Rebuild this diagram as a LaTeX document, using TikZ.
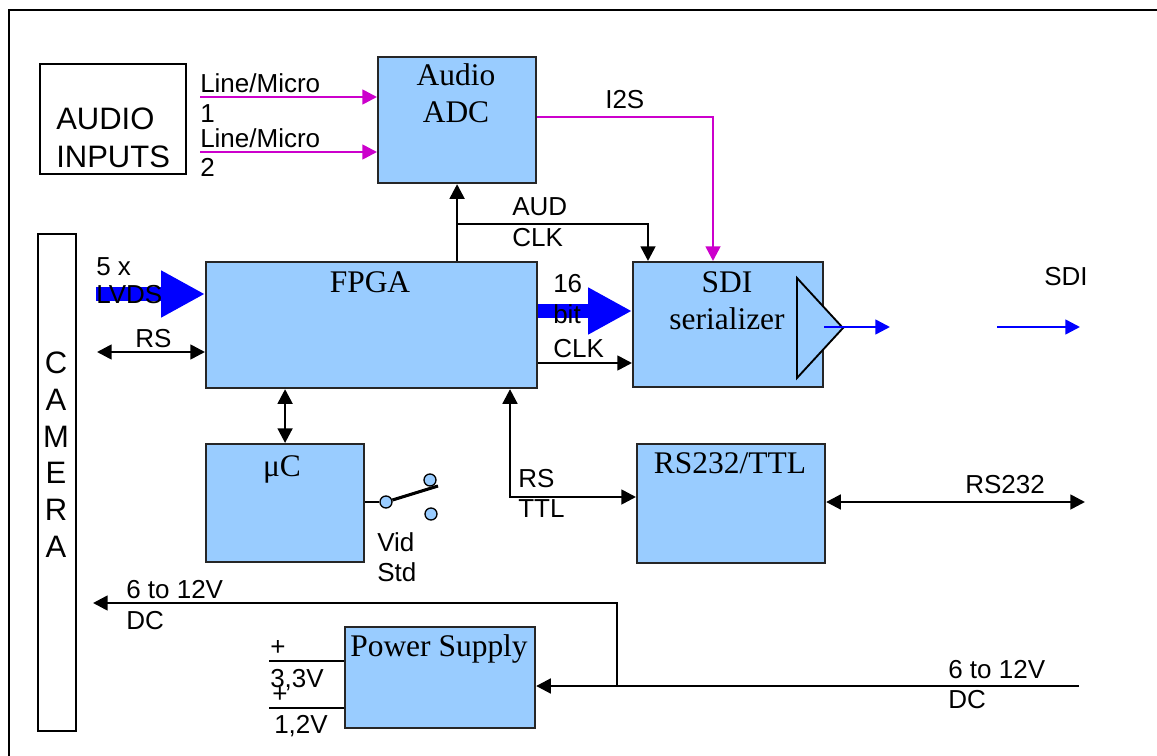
\documentclass[tikz,border=0pt]{standalone}
\usepackage{fontspec}
\setmainfont{Liberation Serif}
\setsansfont{Liberation Sans}
\usetikzlibrary{arrows.meta}
\definecolor{boxblue}{HTML}{99CCFF}
\definecolor{mag}{HTML}{CC00CC}
\definecolor{sblue}{HTML}{0000FF}
\begin{document}
\begin{tikzpicture}[x=0.75pt,y=-0.75pt,
  >={Triangle[length=11pt,width=11pt]},
  blk/.style={draw=black!85, line width=1.6pt, fill=boxblue, inner sep=0pt, anchor=north west},
  wbox/.style={draw, line width=1.6pt, fill=white, inner sep=0pt, anchor=north west},
  lbl/.style={font=\sffamily\fontsize{19.5}{22}\selectfont, inner sep=0pt, anchor=base west},
  bigtxt/.style={font=\sffamily\fontsize{23.25}{26}\selectfont, inner sep=0pt, anchor=base west},
  camtxt/.style={font=\sffamily\fontsize{23.25}{26}\selectfont, inner sep=0pt, anchor=base},
  ser/.style={font=\rmfamily\fontsize{23.6}{26}\selectfont, inner sep=0pt, anchor=base},
  conn/.style={line width=2pt, ->},
  conntwo/.style={line width=2pt, <->},
  plainline/.style={line width=2pt},
  magc/.style={line width=2pt, draw=mag, ->, color=mag},
  bconn/.style={line width=1.9pt, color=sblue, ->},
  bigarr/.style={line width=10.5pt, color=sblue, -{Triangle[length=33pt,width=33pt]}},
  contact/.style={circle, draw, fill=boxblue, minimum size=9pt, inner sep=0pt, line width=1pt}
]
\useasboundingbox (0,0) rectangle (1157,756);
% frame
\draw[line width=1.6pt] (9,756) -- (9,10) -- (1157,10);

% boxes
\node[wbox, minimum width=109.5pt, minimum height=82.5pt] (ains) at (39,63) {};
\node[bigtxt] (ainsA) at (56,130) {AUDIO};
\node[bigtxt] (ainsB) at (56,168) {INPUTS};

\node[blk, minimum width=118.5pt, minimum height=94.5pt] (adc) at (377,56) {};
\node[ser] (adct1) at (456,86) {Audio};
\node[ser] (adct2) at (456,123) {ADC};

\node[blk, minimum width=248.25pt, minimum height=94.5pt] (fpga) at (205,261) {};
\node[ser] (fpgat) at (370,292) {FPGA};

\node[blk, minimum width=142.5pt, minimum height=93.75pt] (sdi) at (632,261) {};
\node[ser] (sdit1) at (727,292) {SDI};
\node[ser] (sdit2) at (727,329) {serializer};
\draw[fill=boxblue, line width=1.4pt] (797,278) -- (797,378) -- (843,328) -- cycle;

\node[blk, minimum width=118.5pt, minimum height=88.5pt] (uc) at (205,443) {};
\node[ser] (uct) at (282,476) {μC};

\node[blk, minimum width=141pt, minimum height=89.25pt] (rsttl) at (636,443) {};
\node[ser] (rsttlt) at (730,473) {RS232/TTL};

\node[blk, minimum width=142.5pt, minimum height=75.75pt] (ps) at (344,626) {};
\node[ser] (pst) at (439,656) {Power Supply};

\node[wbox, minimum width=28.5pt, minimum height=372.75pt] (cam) at (37,233) {};
\node[camtxt] (c1) at (56,373) {C};
\node[camtxt] (c2) at (56,410) {A};
\node[camtxt] (c3) at (56,447) {M};
\node[camtxt] (c4) at (56,483) {E};
\node[camtxt] (c5) at (56,520) {R};
\node[camtxt] (c6) at (56,557) {A};

% audio inputs
\coordinate (lm1) at (200,97);
\coordinate (lm2) at (200,152);
\draw[magc] (lm1) -- (lm1 -| adc.west);
\draw[magc] (lm2) -- (lm2 -| adc.west);
\node[lbl] (lm1a) at (200,93) {Line/Micro};
\node[lbl] (lm1b) at (200,123) {1};
\node[lbl] (lm2a) at (200,148) {Line/Micro};
\node[lbl] (lm2b) at (200,177) {2};

% I2S
\coordinate (i2s) at (713,117);
\draw[magc] (adc.east |- i2s) -- (i2s) -- (i2s |- sdi.north);
\node[lbl] (i2st) at (605,109) {I2S};

% FPGA to ADC and AUD CLK
\draw[conn] (fpga.north -| adc.south) -- (adc.south);
\coordinate (ac1) at (457,224);
\coordinate (ac2) at (648,224);
\draw[conn] (ac1) -- (ac2) -- (ac2 |- sdi.north);
\node[lbl] (audt) at (512,216) {AUD};
\node[lbl] (audc) at (512,247) {CLK};

% LVDS
\coordinate (lvds) at (96,294);
\draw[bigarr] (lvds) -- (lvds -| fpga.west);
\node[lbl] (lv1) at (96,276) {5 x};
\node[lbl] (lv2) at (96,303) {LVDS};

% RS camera
\coordinate (rsl) at (97,352);
\draw[conntwo] (rsl) -- (rsl -| fpga.west);
\node[lbl] (rst) at (135,347) {RS};

% 16 bit
\coordinate (b16) at (536,311);
\draw[bigarr] (fpga.east |- b16) -- (sdi.west |- b16);
\node[lbl] (b16a) at (553,292) {16};
\node[lbl] (b16b) at (553,323) {bit};

% CLK
\coordinate (clk) at (536,363);
\draw[conn] (fpga.east |- clk) -- (sdi.west |- clk);
\node[lbl] (clkt) at (553,357) {CLK};

% SDI out
\coordinate (so1) at (890,327);
\draw[bconn] (sdi.east |- so1) -- (so1);
\coordinate (so2a) at (997,327);
\coordinate (so2b) at (1080,327);
\draw[bconn] (so2a) -- (so2b);
\node[lbl] (sdil) at (1044,286) {SDI};

% uC
\draw[conntwo] (uc.north) -- (uc.north |- fpga.south);
\node[contact] (sw0) at (386,502) {};
\node[contact] (sw1) at (430,480) {};
\node[contact] (sw2) at (431,514) {};
\coordinate (lev) at (438,486);
\draw[plainline] (uc.east |- sw0) -- (sw0);
\draw[line width=2.3pt] (sw0) -- (lev);
\node[lbl] (vid1) at (377,551) {Vid};
\node[lbl] (vid2) at (377,581) {Std};

% RS TTL
\coordinate (rt) at (510,497);
\draw[conntwo] (rt |- fpga.south) -- (rt) -- (rt -| rsttl.west);
\node[lbl] (rtt1) at (518,487) {RS};
\node[lbl] (rtt2) at (518,517) {TTL};

% RS232
\coordinate (r232) at (1085,502);
\draw[conntwo] (rsttl.east |- r232) -- (r232);
\node[lbl] (r232t) at (965,493) {RS232};

% power
\coordinate (pin) at (1079,686);
\draw[conn] (pin) -- (pin -| ps.east);
\coordinate (pb) at (617,686);
\coordinate (ptop) at (617,603);
\coordinate (pl) at (93,603);
\draw[conn] (pb) -- (ptop) -- (pl);
\node[lbl] (pw1) at (126,598) {6 to 12V};
\node[lbl] (pw2) at (126,629) {DC};
\node[lbl] (pw3) at (948,678) {6 to 12V};
\node[lbl] (pw4) at (948,708) {DC};

\coordinate (o33) at (269,661);
\coordinate (o12) at (269,708);
\draw[plainline] (ps.west |- o33) -- (o33);
\draw[plainline] (ps.west |- o12) -- (o12);
\node[lbl] (p33a) at (270,655) {+};
\node[lbl] (p33b) at (270,687) {3,3V};
\node[lbl] (p12a) at (272,702) {+};
\node[lbl] (p12b) at (274,733) {1,2V};
\end{tikzpicture}
\end{document}
